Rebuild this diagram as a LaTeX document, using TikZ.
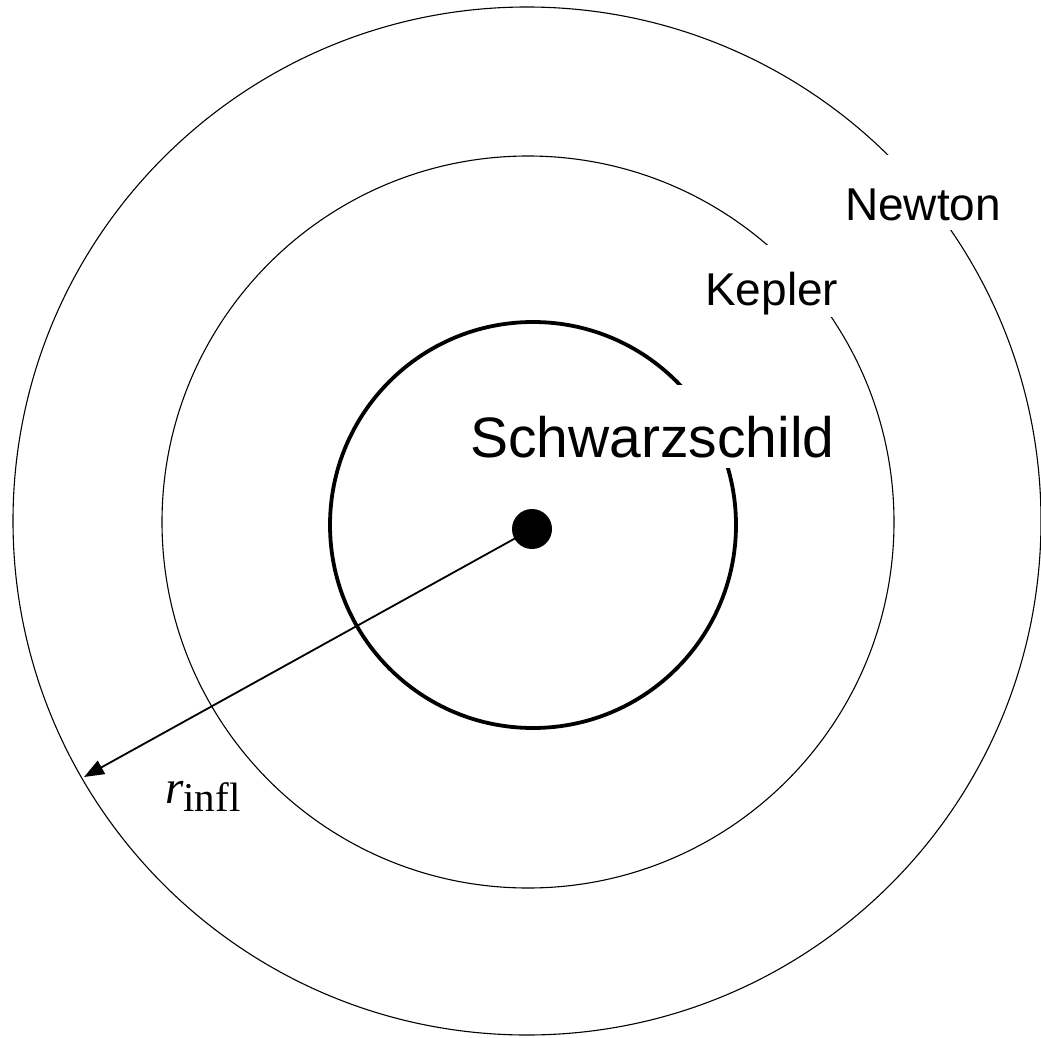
\documentclass[tikz,border=0pt]{standalone}
\usepackage{fontspec}
\setmainfont{Liberation Serif}
\setsansfont{Liberation Sans}
\usetikzlibrary{arrows.meta}

\begin{document}
\begin{tikzpicture}[
  x=1pt, y=-1pt,
  ring/.style={draw=black, line width=1.1pt},
  horizon/.style={draw=black, line width=3.8pt},
  tag/.style={fill=white, inner xsep=9pt, inner ysep=0pt, anchor=base west},
  hole/.style={circle, fill=black, minimum size=40pt, inner sep=0pt},
  arr/.style={-{Triangle[length=20pt,width=15pt]}, line width=1.8pt},
]
\useasboundingbox (0,0) rectangle (1041,1038);

% zones
\draw[ring] (527,521) circle (514pt);
\draw[ring] (528,522) circle (366pt);
\draw[horizon] (533,525) circle (203pt);

% zone names (white boxes cut the rings)
\node[tag, text height=72pt, text depth=11pt,
      font=\sffamily\fontsize{57}{57}\selectfont] (sch) at (461,457) {Schwarzschild};
\node[tag, text height=60pt, text depth=12pt,
      font=\sffamily\fontsize{46}{46}\selectfont] (kep) at (696,305) {Kepler};
\node[tag, text height=65pt, text depth=10pt,
      font=\sffamily\fontsize{46}{46}\selectfont] (newt) at (836,220) {Newton};

% black hole and radius of influence
\node[hole] (bh) at (532,529) {};
\coordinate (edge) at (84,777);
\draw[arr] (bh.center) -- (edge);

\node[anchor=base west, inner sep=0pt] (rinf) at (165,803)
  {{\fontsize{47}{47}\selectfont\itshape r}\raisebox{-8pt}{\fontsize{41}{41}\selectfont infl}};
\end{tikzpicture}
\end{document}
